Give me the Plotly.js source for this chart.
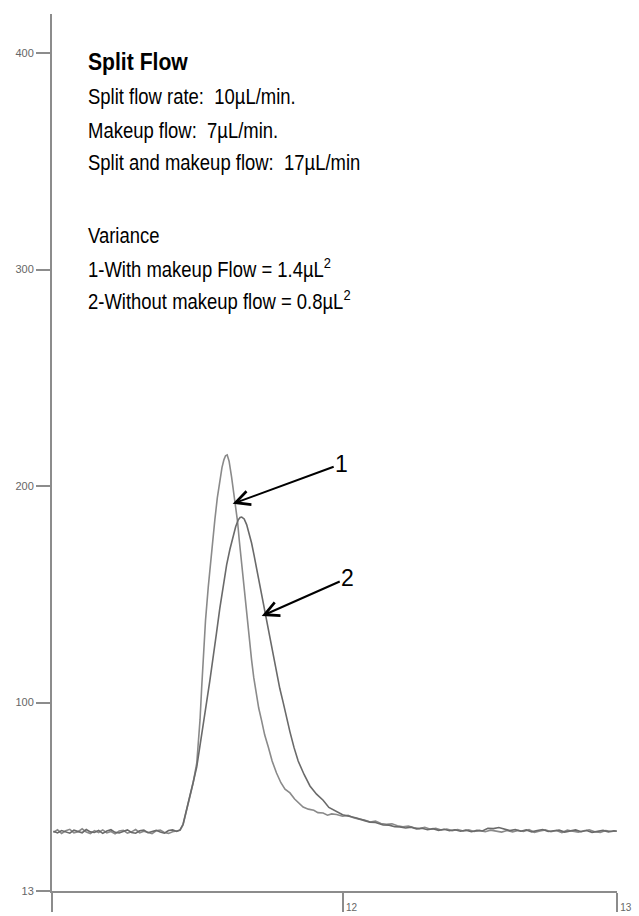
<!DOCTYPE html>
<html>
<head>
<meta charset="utf-8">
<script src="https://cdn.plot.ly/plotly-3.0.1.min.js"></script>
<style>html,body{margin:0;padding:0;background:#fff;}#chart{width:639px;height:916px;}</style>
</head>
<body>
<div id="chart"></div>
<script>
// Trace 1: with makeup flow (taller, narrower peak)
const time1 = [10.945,10.96,10.975,10.99,11.005,11.02,11.035,11.05,11.065,11.08,11.095,11.11,11.125,11.14,11.155,11.17,11.185,11.2,11.215,11.23,11.245,11.26,11.275,11.29,11.305,11.32,11.335,11.35,11.365,11.38,11.395,
 11.407,11.418,11.425,11.433,11.443,11.455,11.468,11.475,11.48,11.486,11.492,11.5,11.51,11.522,11.534,11.543,11.552,11.56,11.567,11.573,11.579,11.586,11.595,11.603,11.611,11.617,11.623,11.63,11.637,11.645,11.652,11.66,11.668,11.676,11.684,11.694,11.704,11.716,11.729,11.743,11.759,11.775,11.79,11.808,11.825,11.84,11.856,11.875,11.895,11.91,11.929,11.945,11.96,11.978,
 12.0,12.02,12.04,12.06,12.08,12.1,12.12,12.14,12.16,12.18,12.2,12.22,12.24,12.26,12.28,12.3,12.32,12.34,12.36,12.38,12.4,12.42,12.44,12.46,12.48,12.5,12.52,12.54,12.56,12.58,12.6,12.62,12.64,12.66,12.68,12.7,12.72,12.74,12.76,12.78,12.8,12.82,12.84,12.86,12.88,12.9,12.92,12.94,12.96,12.98,13.0];
const signal1 = [40.1,41.3,39.6,40.8,41.5,39.9,40.4,41.7,40.2,39.5,40.9,40.0,41.2,39.8,40.5,39.4,40.7,41.0,39.7,40.3,41.4,39.9,40.6,40.1,39.5,40.8,41.1,40.0,39.6,40.4,40.9,
 41.0,43.5,47.0,51.5,56.4,63.0,72.0,82.0,92.0,107.0,122.9,138.0,153.4,170.0,184.4,194.5,202.8,208.5,212.1,214.0,214.4,211.5,204.2,197.5,190.4,183.5,175.1,166.0,156.6,147.0,138.2,128.5,119.7,111.5,104.5,97.5,92.0,85.0,79.5,73.0,67.5,63.0,60.0,58.3,55.5,53.5,51.8,50.8,50.3,49.2,49.0,48.0,48.6,48.3,
 47.5,47.9,46.8,46.2,45.8,44.9,45.3,44.2,43.8,44.0,43.1,42.6,43.0,42.2,41.8,42.4,41.5,41.9,41.2,41.6,40.9,41.4,40.7,41.2,40.5,41.0,40.4,41.1,40.6,40.2,40.9,40.3,41.0,40.5,41.3,40.1,40.7,41.2,40.4,40.9,40.0,41.1,40.6,40.2,40.8,41.3,40.4,40.0,40.9,40.5,40.7];

// Trace 2: without makeup flow (lower, broader peak)
const time2 = [10.945,10.96,10.975,10.99,11.005,11.02,11.035,11.05,11.065,11.08,11.095,11.11,11.125,11.14,11.155,11.17,11.185,11.2,11.215,11.23,11.245,11.26,11.275,11.29,11.305,11.32,11.335,11.35,11.365,11.38,11.395,
 11.407,11.418,11.425,11.433,11.443,11.455,11.468,11.475,11.48,11.492,11.504,11.516,11.528,11.54,11.552,11.565,11.577,11.589,11.601,11.61,11.619,11.626,11.632,11.641,11.65,11.659,11.668,11.677,11.686,11.698,11.71,11.722,11.735,11.747,11.759,11.771,11.783,11.795,11.808,11.823,11.838,11.86,11.881,11.905,11.929,11.95,11.978,
 12.0,12.02,12.051,12.08,12.1,12.12,12.148,12.17,12.19,12.209,12.23,12.25,12.27,12.29,12.31,12.33,12.35,12.37,12.39,12.41,12.43,12.45,12.47,12.49,12.51,12.53,12.55,12.57,12.59,12.61,12.63,12.65,12.67,12.69,12.71,12.73,12.75,12.77,12.79,12.81,12.83,12.85,12.87,12.89,12.91,12.93,12.95,12.97,12.99,13.0];
const signal2 = [40.6,39.8,40.9,40.2,39.7,41.1,40.5,39.9,41.4,40.3,40.0,41.0,39.6,40.7,41.3,40.1,39.8,40.6,41.2,40.0,39.7,40.8,41.1,39.9,40.4,41.0,40.2,39.7,40.9,41.2,40.5,
 41.2,43.8,47.3,51.8,56.6,63.2,70.3,76.5,80.0,89.6,100.2,110.3,120.3,132.1,143.4,153.9,163.6,170.8,177.2,181.2,184.3,185.5,185.7,184.8,182.2,178.4,173.7,168.1,162.1,154.5,147.0,138.8,130.4,121.8,113.2,106.5,100.2,92.9,86.5,79.2,73.0,66.7,61.5,57.7,54.9,51.6,49.5,
 48.2,47.6,46.7,45.5,44.8,44.6,43.5,43.4,42.7,42.6,42.1,42.5,41.7,42.0,41.3,41.8,41.0,41.5,40.8,41.3,40.6,41.1,40.4,41.0,40.7,42.0,41.8,42.3,41.6,40.9,41.4,40.6,41.2,40.3,40.9,41.4,40.5,40.8,41.1,40.2,40.7,41.2,40.4,40.9,40.1,40.6,41.0,40.3,40.8,40.6];

const yTickVals = [13, 100, 200, 300, 400];
const yTickText = ['13', '100', '200', '300', '400'];
const xTickVals = [10.94, 12, 13];
const xTickText = ['', '12', '13'];

const infoLines = [
  '<b>Split Flow</b>',
  'Split flow rate: \u00a010\u00b5L/min.',
  'Makeup flow: \u00a07\u00b5L/min.',
  'Split and makeup flow: \u00a017\u00b5L/min',
  'Variance',
  '1-With makeup Flow = 1.4\u00b5L<sup>2</sup>',
  '2-Without makeup flow = 0.8\u00b5L<sup>2</sup>'
];
// vertical placement of each info line (paper fraction)
const infoLineY = [0.9453, 0.9054, 0.8677, 0.8312, 0.7480, 0.7104, 0.6739];

const FONT = '"Liberation Sans", Arial, sans-serif';

const traces = [
  {x: time1, y: signal1, type: 'scatter', mode: 'lines', line: {color: '#8a8a8a', width: 1.6}, hoverinfo: 'skip'},
  {x: time2, y: signal2, type: 'scatter', mode: 'lines', line: {color: '#6a6a6a', width: 1.6}, hoverinfo: 'skip'}
];

const annotations = infoLines.map((t, i) => ({
  xref: 'paper', yref: 'paper', x: 0.06, y: infoLineY[i], xanchor: 'left', yanchor: 'middle', align: 'left',
  showarrow: false, text: t, font: {size: i === 0 ? 23 : 22, color: '#000', family: FONT}
}));
annotations.push(
  {xref: 'x', yref: 'y', x: 11.599, y: 191.8, ax: 109, ay: -40, text: '1', showarrow: true,
   arrowhead: 5, arrowsize: 1.4, arrowwidth: 2, arrowcolor: '#000', font: {size: 23, color: '#000', family: FONT}},
  {xref: 'x', yref: 'y', x: 11.705, y: 140.0, ax: 86, ay: -38, text: '2', showarrow: true,
   arrowhead: 5, arrowsize: 1.4, arrowwidth: 2, arrowcolor: '#000', font: {size: 23, color: '#000', family: FONT}}
);

const layout = {
  width: 639, height: 916,
  margin: {l: 52, r: 22, t: 14, b: 25, pad: 0},
  paper_bgcolor: '#fff', plot_bgcolor: '#fff',
  showlegend: false,
  font: {family: FONT, color: '#000'},
  xaxis: {
    range: [10.94, 13.001], showgrid: false, zeroline: false,
    showline: true, linecolor: '#8c8c8c', linewidth: 2,
    ticks: 'outside', ticklen: 19, tickwidth: 2, tickcolor: '#8c8c8c',
    tickmode: 'array', tickvals: xTickVals, ticktext: xTickText,
    ticklabelstandoff: -13, ticklabelshift: 9,
    tickfont: {size: 10, color: '#666', family: FONT}
  },
  yaxis: {
    range: [13, 418], showgrid: false, zeroline: false,
    showline: true, linecolor: '#8c8c8c', linewidth: 2,
    ticks: 'outside', ticklen: 14, tickwidth: 2, tickcolor: '#8c8c8c',
    tickmode: 'array', tickvals: yTickVals, ticktext: yTickText,
    tickfont: {size: 11, color: '#666', family: FONT}
  },
  annotations: annotations
};

Plotly.newPlot('chart', traces, layout, {displayModeBar: false, staticPlot: true}).then(function (gd) {
  // The reference text block is slightly condensed horizontally: narrow each info line around its left edge.
  for (let i = 0; i < infoLines.length; i++) {
    const el = gd.querySelector('.annotation[data-index="' + i + '"] text.annotation-text');
    if (el) {
      el.style.transformBox = 'fill-box';
      el.style.transformOrigin = 'left center';
      el.style.transform = i === 0 ? 'scaleX(0.92)' : 'scaleX(0.84)';
    }
  }
});
</script>
</body>
</html>
